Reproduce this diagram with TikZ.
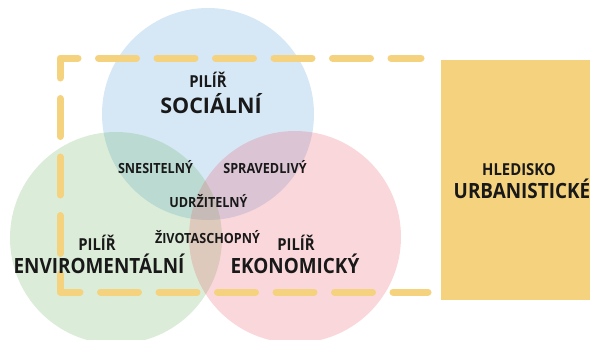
\documentclass[tikz,border=0pt]{standalone}
\usepackage{fontspec}
\setmainfont{Open Sans}
\newfontfamily\narrowSans{Open Sans}[FakeStretch=0.9]
\definecolor{frameYellow}{RGB}{245,210,126}
\definecolor{socBlue}{RGB}{91,160,220}
\definecolor{envGreen}{RGB}{110,180,100}
\definecolor{ekoPink}{RGB}{235,95,110}

\begin{document}
\begin{tikzpicture}
[x=1pt,y=-1pt,
pillarDisc/.style={circle,draw=none,fill opacity=0.25,
inner sep=0pt,minimum size=212pt},
dashFrame/.style={draw=frameYellow,line width=7pt,line cap=round,line join=round,
dash pattern=on 38pt off 20.5pt,dash phase=8pt},
bigWord/.style={anchor=base,text=black!90,font=\narrowSans\fontsize{21}{21}\selectfont\bfseries},
midWord/.style={anchor=base,text=black!90,font=\narrowSans\fontsize{16.5}{16.5}\selectfont\bfseries},
smallWord/.style={anchor=base,text=black!90,font=\narrowSans\fontsize{14}{14}\selectfont\bfseries}]
  \useasboundingbox (0,0) rectangle (590,340);
  % the three pillars
  \node[pillarDisc,fill=socBlue]  (socialDisc) at (208,114) {};
  \node[pillarDisc,fill=envGreen] (enviroDisc) at (116,238) {};
  \node[pillarDisc,fill=ekoPink]  (ekonoDisc)  at (295,237) {};
  % open dashed frame
  \coordinate (frameTR) at (421,58);
  \coordinate (frameTL) at (60,58);
  \coordinate (frameBL) at (60,292);
  \coordinate (frameBR) at (428,292);
  \draw[dashFrame] (frameTR) -- (frameTL) -- (frameBL) -- (frameBR);
  % urban box
  \node[fill=frameYellow,inner sep=0pt,minimum width=159pt,minimum height=240pt]
    (urbanBox) at (520.5,180) {};
  \node[midWord]  (urbanTop)  at (519,175) {HLEDISKO};
  \node[bigWord]  (urbanName) at (522,198) {URBANISTICKÉ};
  % pillar labels
  \node[midWord]  (socialTop)  at (208,87)  {PILÍŘ};
  \node[bigWord,font=\fontsize{21.5}{21.5}\selectfont\bfseries]
                  (socialName) at (211,113) {SOCIÁLNÍ};
  \node[midWord]  (enviroTop)  at (97,250)  {PILÍŘ};
  \node[bigWord]  (enviroName) at (99,273)  {ENVIROMENTÁLNÍ};
  \node[midWord]  (ekonoTop)   at (296,250) {PILÍŘ};
  \node[bigWord]  (ekonoName)  at (295,273) {EKONOMICKÝ};
  % overlaps
  \node[smallWord] (bearable)  at (155.5,173) {SNESITELNÝ};
  \node[smallWord] (equitable) at (265,173)   {SPRAVEDLIVÝ};
  \node[smallWord] (sustain)   at (208.5,207) {UDRŽITELNÝ};
  \node[smallWord] (viable)    at (207.5,243) {ŽIVOTASCHOPNÝ};
\end{tikzpicture}
\end{document}
